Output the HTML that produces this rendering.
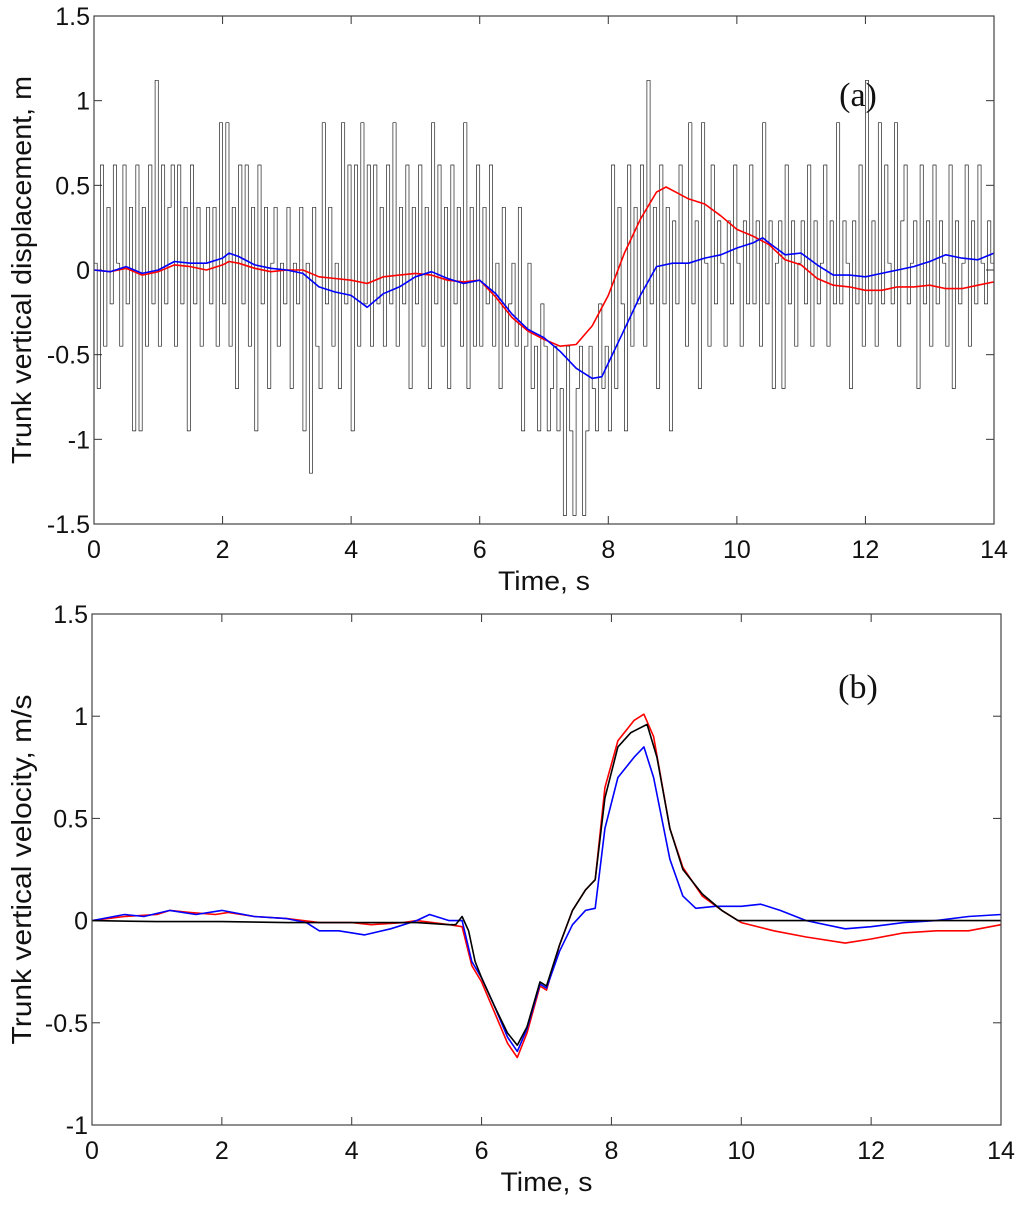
<!DOCTYPE html>
<html><head><meta charset="utf-8"><style>
body{margin:0;background:#fff;width:1024px;height:1202px;overflow:hidden}
svg text{font-family:"Liberation Sans",sans-serif;fill:#111}
</style></head><body>
<svg id="fig" width="1024" height="1202" xmlns="http://www.w3.org/2000/svg"></svg>
<script>
// ---- Panel (a) data ----
const aNoiseStep = 0.05;
const aNoise = [
0.04,-0.7,0.62,-0.45,0.37,-0.2,0.62,0.04,-0.45,0.62,-0.2,0.37,-0.95,0.62,-0.95,0.37,-0.45,0.62,-0.2,1.12,
-0.45,0.62,-0.2,0.37,0.62,-0.45,0.62,-0.2,0.37,-0.95,0.62,-0.2,0.37,-0.45,0.04,0.37,-0.2,0.37,-0.45,0.87,
-0.2,0.87,-0.45,0.37,-0.7,0.62,-0.2,0.62,-0.45,0.37,-0.95,0.62,-0.2,0.37,-0.7,0.04,0.37,-0.45,0.04,-0.2,
0.37,-0.7,0.04,-0.2,0.37,-0.95,0.04,-1.2,0.37,-0.45,-0.7,0.87,-0.2,0.37,-0.45,0.04,-0.7,0.87,-0.2,0.62,
-0.95,0.62,-0.45,0.87,-0.2,0.62,-0.45,0.62,-0.2,0.37,-0.45,0.62,-0.2,0.87,-0.45,0.37,-0.2,0.62,-0.7,0.37,
-0.2,0.62,-0.45,0.37,-0.7,0.87,-0.2,0.62,-0.45,0.37,-0.7,0.62,-0.2,0.37,-0.45,0.87,-0.7,0.37,-0.45,0.62,
-0.45,0.37,-0.2,0.62,-0.45,0.04,-0.7,0.37,-0.45,-0.2,0.04,-0.45,0.37,-0.95,-0.45,0.04,-0.7,-0.45,-0.95,-0.2,
-0.45,-0.95,-0.7,-0.45,-0.95,-0.7,-1.45,-0.45,-0.95,-1.45,-0.7,-0.45,-1.45,-0.95,-0.45,-0.7,-0.95,-0.2,-0.7,-0.45,
-0.95,0.62,-0.7,0.37,-0.2,-0.95,0.62,-0.45,0.37,-0.2,0.62,-0.45,1.12,-0.2,0.37,-0.7,0.62,-0.2,0.37,-0.95,
0.29,-0.2,0.62,0.04,-0.45,0.87,-0.2,0.29,-0.7,0.87,0.04,-0.45,0.62,-0.2,0.29,0.04,-0.45,0.29,-0.2,0.62,
0.04,-0.45,0.29,-0.2,0.62,-0.2,0.29,-0.45,0.87,-0.2,0.29,-0.7,0.04,0.29,-0.7,0.62,-0.2,0.29,-0.45,0.04,
0.29,-0.2,0.62,-0.45,0.29,-0.2,0.04,0.62,-0.45,0.29,-0.2,0.87,-0.2,0.29,0.04,-0.7,0.29,-0.2,0.62,-0.45,
1.12,-0.2,0.29,-0.45,0.87,-0.2,0.62,0.04,-0.2,0.87,-0.45,0.29,0.62,-0.2,0.04,0.29,-0.7,0.62,-0.2,0.29,
-0.45,0.62,-0.2,0.29,0.04,-0.45,0.62,-0.7,0.29,-0.2,0.04,0.62,-0.45,0.29,-0.2,0.62,0.04,-0.2,0.29,0.04,0.29];
const aRedT = [0,0.25,0.5,0.75,1,1.25,1.5,1.75,2,2.1,2.25,2.5,2.75,3,3.25,3.5,3.75,4,4.25,4.5,4.75,5,5.25,5.5,5.75,6,6.25,6.5,6.75,7,7.25,7.5,7.75,8,8.25,8.5,8.75,8.9,9,9.25,9.5,9.75,10,10.25,10.5,10.75,11,11.25,11.5,11.75,12,12.25,12.5,12.75,13,13.25,13.5,13.75,14];
const aRedV = [0,-0.01,0.01,-0.03,-0.01,0.03,0.02,0,0.03,0.05,0.04,0.01,-0.01,0,0,-0.04,-0.05,-0.06,-0.08,-0.04,-0.03,-0.02,-0.03,-0.06,-0.07,-0.06,-0.16,-0.28,-0.36,-0.41,-0.45,-0.44,-0.33,-0.15,0.1,0.3,0.46,0.49,0.47,0.42,0.39,0.32,0.24,0.2,0.15,0.06,0.03,-0.05,-0.09,-0.1,-0.12,-0.12,-0.1,-0.1,-0.09,-0.11,-0.11,-0.09,-0.07];
const aBlueT = [0,0.25,0.5,0.75,1,1.25,1.5,1.75,2,2.1,2.25,2.5,2.75,3,3.25,3.5,3.75,4,4.25,4.5,4.75,5,5.25,5.5,5.75,6,6.25,6.5,6.75,7,7.25,7.5,7.75,7.9,8,8.25,8.5,8.75,9,9.25,9.5,9.75,10,10.25,10.4,10.5,10.75,11,11.25,11.5,11.75,12,12.25,12.5,12.75,13,13.25,13.5,13.75,14];
const aBlueV = [0,-0.01,0.02,-0.02,0,0.05,0.04,0.04,0.07,0.1,0.08,0.03,0.01,0,-0.02,-0.1,-0.13,-0.15,-0.22,-0.14,-0.1,-0.04,-0.01,-0.05,-0.08,-0.06,-0.14,-0.26,-0.35,-0.4,-0.48,-0.58,-0.64,-0.63,-0.55,-0.35,-0.15,0.02,0.04,0.04,0.07,0.09,0.13,0.16,0.19,0.16,0.09,0.1,0.03,-0.03,-0.03,-0.04,-0.02,0,0.02,0.05,0.09,0.07,0.06,0.1];
// ---- Panel (b) data ----
const bBlackT = [0,1,2,3,4,5,5.5,5.6,5.7,5.8,5.9,6,6.2,6.4,6.55,6.7,6.9,7,7.2,7.4,7.6,7.75,7.9,8.1,8.3,8.55,8.7,8.9,9.1,9.4,9.7,9.95,11,12,13,14];
const bBlackV = [0,-0.005,-0.005,-0.01,-0.01,-0.01,-0.02,-0.02,0.02,-0.05,-0.2,-0.28,-0.42,-0.55,-0.61,-0.52,-0.3,-0.32,-0.12,0.05,0.15,0.2,0.6,0.85,0.92,0.96,0.8,0.45,0.25,0.13,0.05,0,0,0,0,0];
const bRedT = [0,0.5,1,1.2,1.5,1.9,2.1,2.5,3,3.5,4,4.3,4.8,5,5.5,5.7,5.85,6,6.2,6.4,6.55,6.7,6.9,7,7.2,7.4,7.6,7.75,7.9,8.1,8.35,8.5,8.65,8.9,9.1,9.4,9.7,10,10.5,11,11.6,12,12.5,13,13.5,14];
const bRedV = [0,0.02,0.03,0.05,0.04,0.03,0.04,0.02,0.01,-0.01,-0.01,-0.02,-0.01,0,-0.02,-0.03,-0.22,-0.3,-0.45,-0.6,-0.67,-0.55,-0.32,-0.34,-0.12,0.05,0.15,0.2,0.65,0.88,0.98,1.01,0.9,0.45,0.26,0.12,0.05,-0.01,-0.05,-0.08,-0.11,-0.09,-0.06,-0.05,-0.05,-0.02];
const bBlueT = [0,0.5,0.8,1.2,1.6,2,2.5,3,3.3,3.5,3.8,4.2,4.6,5,5.2,5.5,5.7,5.85,6,6.2,6.4,6.55,6.7,6.9,7,7.2,7.4,7.6,7.75,7.9,8.1,8.35,8.5,8.65,8.9,9.1,9.3,9.6,10,10.3,10.6,11,11.6,12,12.5,13,13.5,14];
const bBlueV = [0,0.03,0.02,0.05,0.03,0.05,0.02,0.01,-0.01,-0.05,-0.05,-0.07,-0.04,0,0.03,0,0,-0.2,-0.28,-0.42,-0.57,-0.64,-0.53,-0.31,-0.33,-0.15,-0.02,0.05,0.06,0.45,0.7,0.8,0.85,0.7,0.3,0.12,0.06,0.07,0.07,0.08,0.05,0,-0.04,-0.03,-0.01,0,0.02,0.03];
const xTicks = [0,2,4,6,8,10,12,14];
const aYTicks = [-1.5,-1,-0.5,0,0.5,1,1.5];
const aYLabels = ["-1.5","-1","-0.5","0","0.5","1","1.5"];
const bYTicks = [-1,-0.5,0,0.5,1,1.5];
const bYLabels = ["-1","-0.5","0","0.5","1","1.5"];

const NS="http://www.w3.org/2000/svg";
const svg=document.getElementById('fig');
function mk(tag,attrs,parent){const e=document.createElementNS(NS,tag);for(const k in attrs)e.setAttribute(k,attrs[k]);(parent||svg).appendChild(e);return e;}

function panel(P){
  const g=mk('g',{});
  
  
  const sx=t=>P.x0+(t-0)/14*(P.x1-P.x0);
  const sy=v=>P.y1-(v-P.ymin)/(P.ymax-P.ymin)*(P.y1-P.y0);
  xTicks.forEach(t=>{
    const x=sx(t);
    mk('line',{x1:x,x2:x,y1:P.y1,y2:P.y1-8,stroke:'#333','stroke-width':1},g);
    mk('line',{x1:x,x2:x,y1:P.y0,y2:P.y0+8,stroke:'#333','stroke-width':1},g);
    const tx=mk('text',{x:x,y:P.y1+34,'text-anchor':'middle','font-size':25},g);
    
    
    tx.textContent=String(t);
  });
  P.yt.forEach((v,i)=>{
    const y=sy(v);
    mk('line',{x1:P.x0,x2:P.x0+8,y1:y,y2:y,stroke:'#333','stroke-width':1},g);
    mk('line',{x1:P.x1,x2:P.x1-8,y1:y,y2:y,stroke:'#333','stroke-width':1},g);
    const ty=mk('text',{x:P.x0-4,y:y+9,'text-anchor':'end','font-size':25},g);
    
    
    ty.textContent=P.yl[i];
  });
  const line=(T,V,color,w,name,step)=>{
    let d;
    if(step){
      d='M'+sx(T[0]).toFixed(1)+' '+sy(V[0]).toFixed(1);
      for(let i=1;i<T.length;i++){d+='H'+sx(T[i]).toFixed(1)+'V'+sy(V[i]).toFixed(1);}
    } else {
      d=T.map((t,i)=>(i?'L':'M')+sx(t).toFixed(1)+' '+sy(V[i]).toFixed(1)).join('');
    }
    const p=mk('path',{d:d,fill:'none',stroke:color,'stroke-width':w,'stroke-linejoin':'round'},g);
    
    
  };
  P.series.forEach(s=>line(s.t,s.v,s.c,s.w,s.n,s.step));
  const fr=mk('rect',{x:P.x0,y:P.y0,width:P.x1-P.x0,height:P.y1-P.y0,fill:'none',stroke:'#444','stroke-width':1.2},g);
  
  
  const xl=mk('text',{x:(P.x0+P.x1)/2,y:P.y1+66,'text-anchor':'middle','font-size':27,textLength:92,lengthAdjust:'spacingAndGlyphs'},g);
  
  
  xl.textContent='Time, s';
  const cy=(P.y0+P.y1)/2;
  const yl=mk('text',{x:0,y:0,'text-anchor':'middle','font-size':28,textLength:P.ylLen,lengthAdjust:'spacingAndGlyphs',transform:`translate(31,${cy}) rotate(-90)`},g);
  
  
  yl.textContent=P.ylabel;
  const pl=mk('text',{x:858,y:P.y0+P.tagY,'text-anchor':'middle','font-size':34},g);
  
  
  pl.setAttribute('style','font-family:"Liberation Serif",serif');
  pl.textContent=P.tag;
}
const noiseT=aNoise.map((v,i)=>i*aNoiseStep);
panel({name:'panel-a',x0:94,x1:994,y0:16,y1:524,ymin:-1.5,ymax:1.5,yt:aYTicks,yl:aYLabels,
  ylabel:'Trunk vertical displacement, m',ylLen:388,tag:'(a)',tagY:90,
  series:[{t:noiseT,v:aNoise,c:'#222',w:0.7,n:'measured-noise-line',step:true},
          {t:aRedT,v:aRedV,c:'#f00',w:1.6,n:'red-estimate-line'},
          {t:aBlueT,v:aBlueV,c:'#00f',w:1.6,n:'blue-estimate-line'}]});
panel({name:'panel-b',x0:92,x1:1001,y0:614,y1:1125,ymin:-1,ymax:1.5,yt:bYTicks,yl:bYLabels,
  ylabel:'Trunk vertical velocity, m/s',ylLen:350,tag:'(b)',tagY:84,
  series:[{t:bRedT,v:bRedV,c:'#f00',w:1.6,n:'red-velocity-line'},
          {t:bBlueT,v:bBlueV,c:'#00f',w:1.6,n:'blue-velocity-line'},
          {t:bBlackT,v:bBlackV,c:'#000',w:1.6,n:'black-velocity-line'}]});
</script>
</body></html>
